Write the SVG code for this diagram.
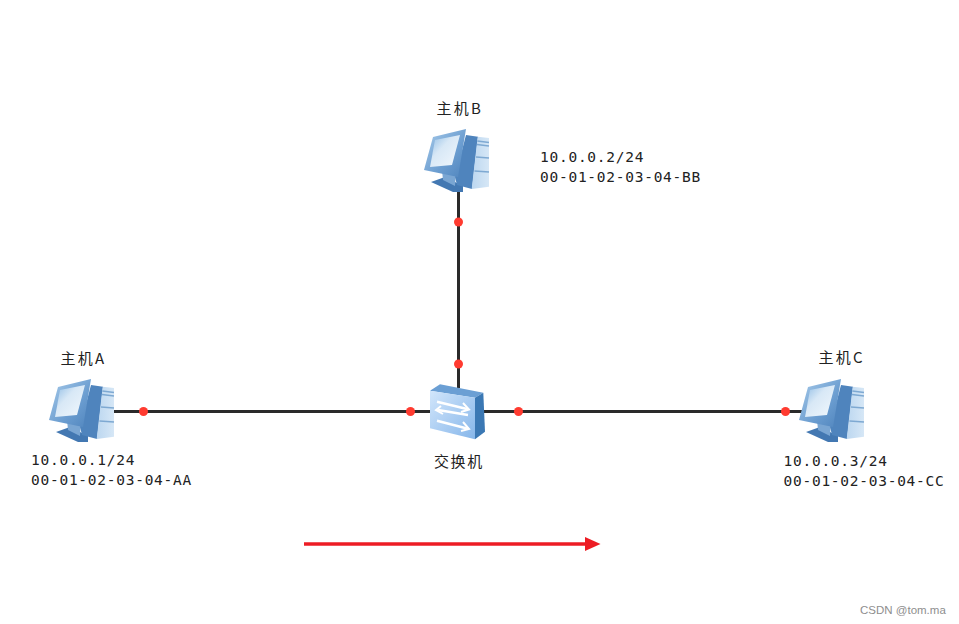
<svg xmlns="http://www.w3.org/2000/svg" xmlns:xlink="http://www.w3.org/1999/xlink" width="959" height="624" viewBox="0 0 959 624">
<style>
.cn{font-family:"Noto Sans CJK SC","DejaVu Sans",sans-serif;font-size:15px;letter-spacing:2.2px;fill:#222}
.addr{font-family:"DejaVu Sans Mono","Liberation Mono",monospace;font-size:14.5px;letter-spacing:.74px;fill:#222}
.link{stroke:#2a2a2a;stroke-width:3;fill:none}
.dot{fill:#ff3b30}
</style>
<defs>
<linearGradient id="mon" x1="0" y1="0" x2="1" y2="1"><stop offset="0" stop-color="#a8cbea"/><stop offset=".6" stop-color="#6b9dd0"/><stop offset="1" stop-color="#4f84bd"/></linearGradient>
<linearGradient id="scr" x1="0" y1="0" x2="1" y2="1"><stop offset="0" stop-color="#8dbbe4"/><stop offset=".4" stop-color="#d8e8f6"/><stop offset="1" stop-color="#f2f8fd"/></linearGradient>
<linearGradient id="twr" x1="0" y1="0" x2="1" y2="0"><stop offset="0" stop-color="#bcd7f0"/><stop offset="1" stop-color="#d6e7f6"/></linearGradient>
<linearGradient id="swf" x1="0" y1="0" x2="1" y2="1"><stop offset="0" stop-color="#d2e6fb"/><stop offset="1" stop-color="#86b6ea"/></linearGradient>
<symbol id="pc" width="66" height="66" viewBox="0 0 66 66" overflow="visible">
<path d="M7 54L21 49L39 58L39 64L29 64Z" fill="#4378b2"/>
<path d="M18 42L32 42L31 58L19 52Z" fill="#7aa6d3"/>
<path d="M42 7L54 8.700L48 61L33 57L31 49Z" fill="#4f84bd"/>
<path d="M53.700 8.700L65 10L65 58.700L47.700 61Z" fill="url(#twr)"/>
<path d="M53.300 13L65 14.500M53 16.500L65 18M52 29L65 30M50.500 43L65 44" stroke="#7ea9d2" stroke-width="1.500" fill="none"/>
<path d="M9 9L42 1L34 49L0 42Z" fill="url(#mon)"/>
<path d="M11 12L36 7L28 37L6 39Z" fill="url(#scr)"/>
</symbol>
<marker id="head" markerUnits="userSpaceOnUse" markerWidth="16" markerHeight="14" refX="1" refY="7" orient="auto"><path d="M0 0L15.500 7L0 14Z" fill="#ed1c24"/></marker>
</defs>
<rect width="959" height="624" fill="#fff"/>
<g id="connectors">
<path class="link" d="M113 411.500H432"/>
<path class="link" d="M484 411.500H802"/>
<path class="link" d="M458.500 190V388"/>
<circle class="dot" cx="143.500" cy="411.500" r="4.500"/>
<circle class="dot" cx="410.500" cy="411.500" r="4.500"/>
<circle class="dot" cx="518.500" cy="411.500" r="4.500"/>
<circle class="dot" cx="785.500" cy="411.500" r="4.500"/>
<circle class="dot" cx="458.500" cy="222" r="4.500"/>
<circle class="dot" cx="458.500" cy="364" r="4.500"/>
<path d="M304 544H586" stroke="#ed1c24" stroke-width="3.500" fill="none" marker-end="url(#head)"/>
</g>
<g id="hostA">
<use xlink:href="#pc" href="#pc" x="49" y="378"/>
<text class="cn" x="60.500" y="364">主机A</text>
<text class="addr" x="31" y="465">10.0.0.1/24</text>
<text class="addr" x="31" y="485">00-01-02-03-04-AA</text>
</g>
<g id="hostB">
<use xlink:href="#pc" href="#pc" x="424" y="128"/>
<text class="cn" x="436.500" y="114">主机B</text>
<text class="addr" x="540" y="162">10.0.0.2/24</text>
<text class="addr" x="540" y="182">00-01-02-03-04-BB</text>
</g>
<g id="hostC">
<use xlink:href="#pc" href="#pc" x="799" y="378"/>
<text class="cn" x="818.500" y="363">主机C</text>
<text class="addr" x="783.500" y="466">10.0.0.3/24</text>
<text class="addr" x="783.500" y="486">00-01-02-03-04-CC</text>
</g>
<g id="switch">
<path d="M430 390.700L440 384.300L483.300 392.700L475 397.700Z" fill="#6b9fd4"/>
<path d="M475 397.700L483.300 392.700L485 431.700L475 439.300Z" fill="#3b78b4"/>
<path d="M430 390.700L475 397.700L475 439.300L430 428.300Z" fill="url(#swf)"/>
<path d="M437 401.700L467 409M468 415L438 410M437 420.700L467 428.500" stroke="#fff" stroke-width="2.500" fill="none"/>
<path d="M463 403L469 409.500L461 412M441 406L436 410L443 414M463 422L469 429L461 431" stroke="#fff" stroke-width="2" fill="none"/>
<text class="cn" x="434" y="467" style="letter-spacing:1.600px">交换机</text>
</g>
<text x="860" y="614" font-family="'Liberation Sans',sans-serif" font-size="11.500px" fill="#8e8e8e">CSDN @tom.ma</text>
</svg>
